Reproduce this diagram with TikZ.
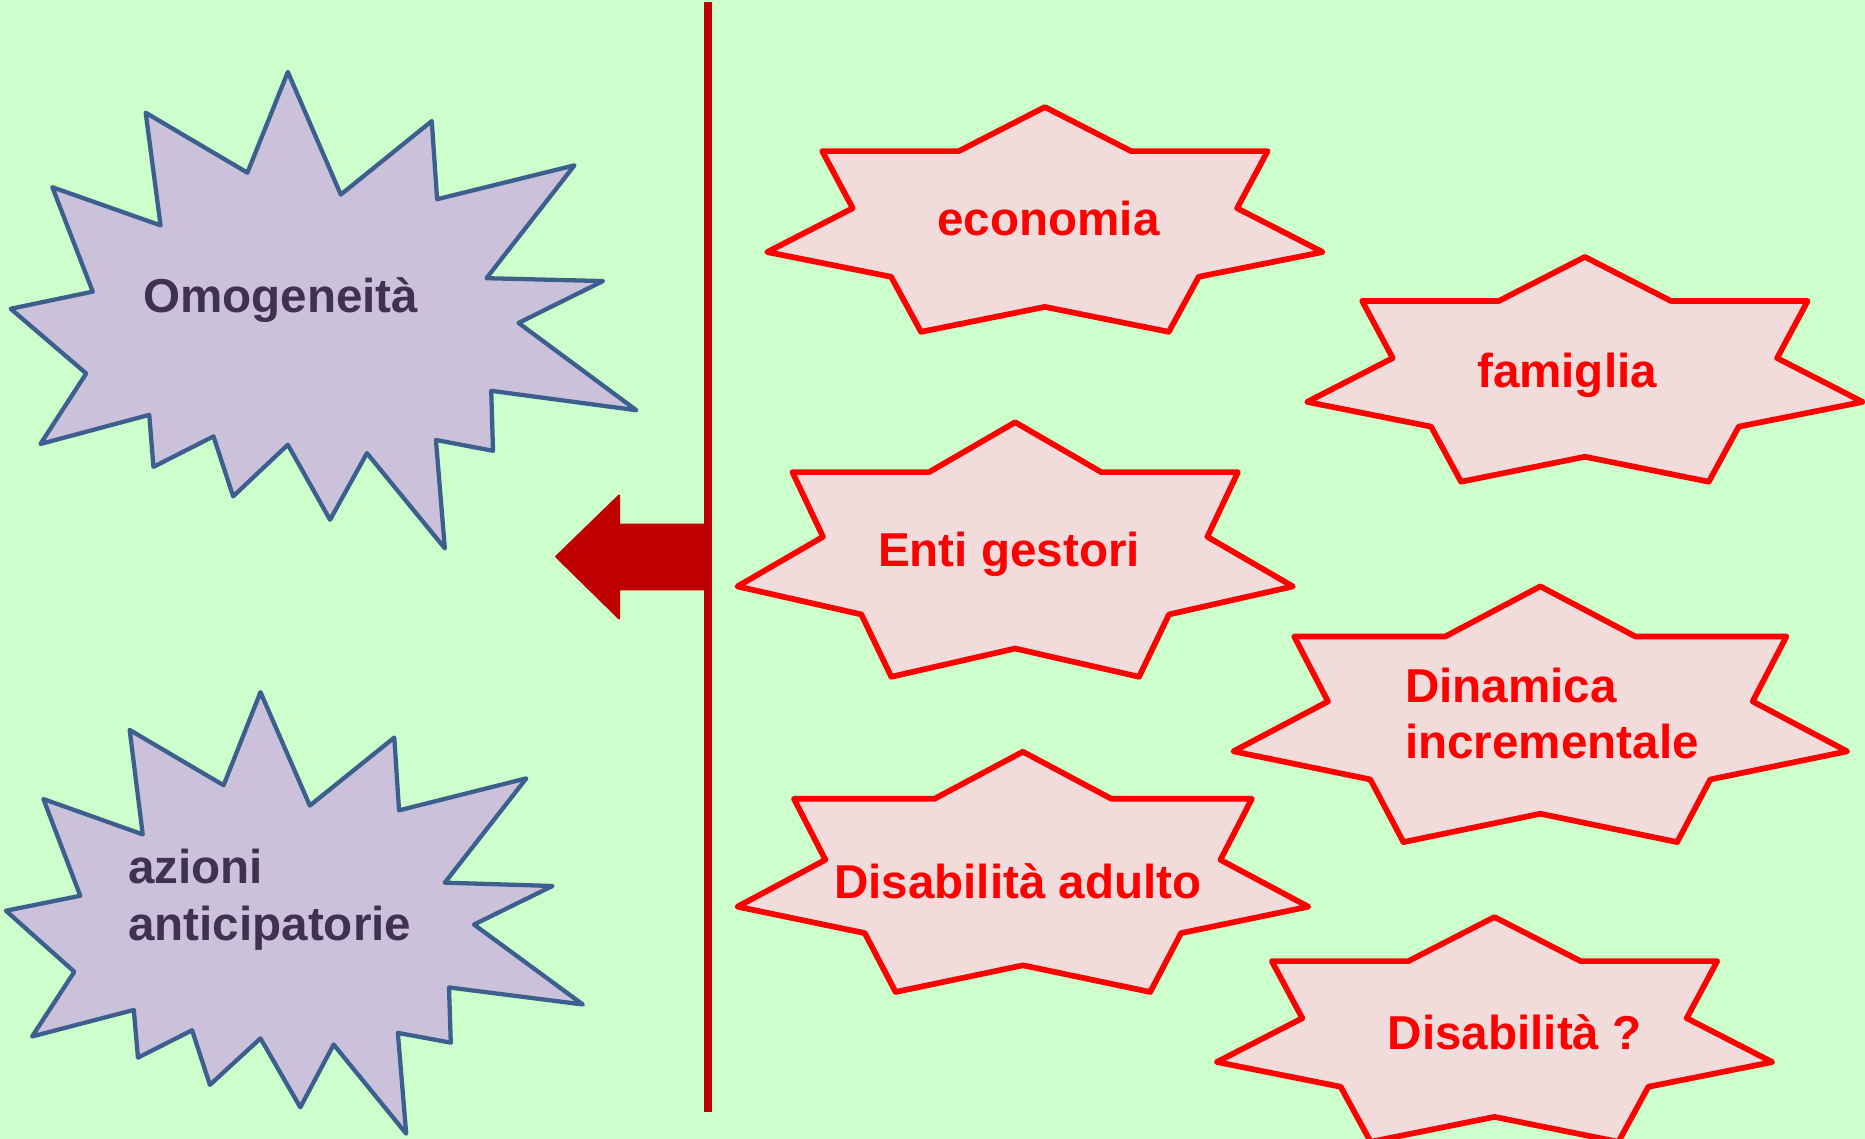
\documentclass[tikz,border=0pt]{standalone}
\usepackage{fontspec}
\setmainfont{Liberation Sans}
\definecolor{bg}{HTML}{CCFFCC}
\definecolor{darkred}{HTML}{C00000}
\definecolor{starred}{HTML}{FF0000}
\definecolor{starfill}{HTML}{F2DCDB}
\definecolor{lavfill}{HTML}{CCC1DA}
\definecolor{lavline}{HTML}{3C5F8E}
\definecolor{lavtext}{HTML}{403152}
\tikzset{
  redstar/.style={draw=starred, fill=starfill, line width=2.4pt, line join=round},
  bluestar/.style={draw=lavline, fill=lavfill, line width=1.8pt, line join=round},
  redlabel/.style={text=starred, font=\bfseries\fontsize{20}{23.5}\selectfont, inner sep=0pt},
  bluelabel/.style={text=lavtext, font=\bfseries\fontsize{20}{24}\selectfont, inner sep=0pt},
}
% seven-point star in the box with top-left (#1,#2), width #3, height #4
\newcommand{\sevenstar}[4]{%
  \draw[redstar]
    ({#1+0.5*#3},{#2})
 -- ({#1+0.655*#3},{#2+0.196*#4})
 -- ({#1+0.901*#3},{#2+0.196*#4})
 -- ({#1+0.846*#3},{#2+0.450*#4})
 -- ({#1+1.000*#3},{#2+0.645*#4})
 -- ({#1+0.777*#3},{#2+0.755*#4})
 -- ({#1+0.723*#3},{#2+1.000*#4})
 -- ({#1+0.500*#3},{#2+0.889*#4})
 -- ({#1+0.277*#3},{#2+1.000*#4})
 -- ({#1+0.223*#3},{#2+0.755*#4})
 -- ({#1+0.000*#3},{#2+0.645*#4})
 -- ({#1+0.154*#3},{#2+0.450*#4})
 -- ({#1+0.099*#3},{#2+0.196*#4})
 -- ({#1+0.345*#3},{#2+0.196*#4})
 -- cycle;}
\begin{document}
\begin{tikzpicture}[x=0.5pt,y=-0.5pt]
\fill[bg] (0,0) rectangle (1568,957.6);
\useasboundingbox (0,0) rectangle (1568,957.6);

% blue explosion: Omogeneita
\draw[bluestar] (242,60.5) -- (286.5,163.6) -- (363,101.8) -- (367.5,167.5) -- (483,139)
  -- (409,233.9) -- (507,236.3) -- (436,271.5) -- (535,344.9) -- (413,328.6)
  -- (414.5,379) -- (366.5,369.9) -- (374,461) -- (308.5,381) -- (277.5,437)
  -- (242,373.9) -- (196,417.3) -- (179.5,366.9) -- (129,392.5) -- (125.5,348.8)
  -- (34,373.3) -- (72.5,314) -- (9,259.6) -- (78,245.2) -- (44,157.4)
  -- (135,189.5) -- (122.5,94.8) -- (208,145.2) -- cycle;
\node[bluelabel, anchor=base] (omog) at (236,263) {Omogeneità};

% blue explosion: azioni anticipatorie
\draw[bluestar] (219,581.9) -- (260.5,677.3) -- (331.5,620.1) -- (335.5,681.3) -- (442.5,654.4)
  -- (374,742.1) -- (464.5,744.9) -- (398.5,777.3) -- (490,844.5) -- (377.5,830.2)
  -- (379,876.6) -- (334.5,868.4) -- (341.5,953.1) -- (280.5,878.2) -- (252.5,931)
  -- (219,873) -- (176.5,912.1) -- (161.5,866.2) -- (116,889.2) -- (112.5,849.1)
  -- (27,871.4) -- (62.5,817) -- (5,765.7) -- (67.5,753.1) -- (36.5,671.8)
  -- (120,701.5) -- (109,613.7) -- (188,660.2) -- cycle;
\node[bluelabel, anchor=base west, align=left] (azioni) at (107.5,790.4) {azioni\\anticipatorie};

% divider and arrow
\draw[darkred, line width=3.2pt] (595,2) -- (595,935);
\fill[darkred, draw=darkred, line width=0.8pt, line join=round]
  (467.5,468) -- (520.5,416.5) -- (520.5,441) -- (597,441) -- (597,495.5)
  -- (520.5,495.5) -- (520.5,520) -- cycle;

% red seven-point stars
\sevenstar{645}{90}{467}{189}
\node[redlabel, anchor=base] (econ) at (881.5,198) {economia};

\sevenstar{1099}{216}{467}{189}
\node[redlabel, anchor=base] (fam) at (1317.5,325.6) {famiglia};

\sevenstar{620}{355}{467}{214}
\node[redlabel, anchor=base] (enti) at (848.3,476) {Enti gestori};

\sevenstar{1037}{493}{516}{215}
\node[redlabel, anchor=base west, align=left] (dina) at (1181,638) {Dinamica\\incrementale};

\sevenstar{620}{632}{480}{202}
\node[redlabel, anchor=base] (disad) at (855.7,755.6) {Disabilità adulto};

\sevenstar{1023}{771}{467}{189}
\node[redlabel, anchor=base] (disq) at (1273.5,882.2) {Disabilità ?};
\end{tikzpicture}
\end{document}
